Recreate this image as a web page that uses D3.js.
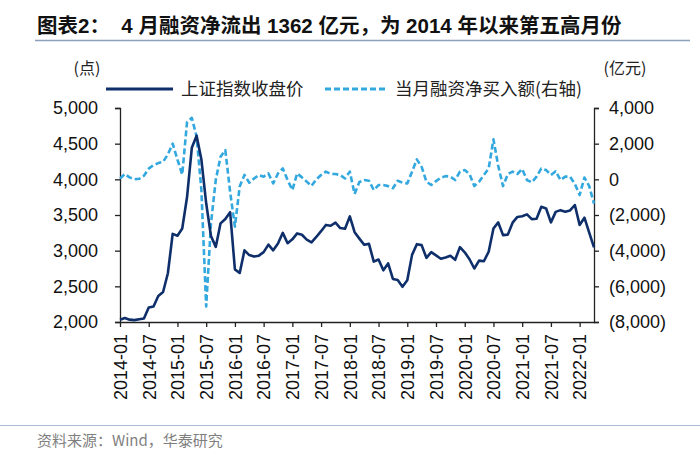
<!DOCTYPE html>
<html><head><meta charset="utf-8">
<script src="https://cdn.jsdelivr.net/npm/d3@7"></script>
<style>
body{margin:0;background:#fff;}
svg{display:block;}
</style></head>
<body>
<svg id="c" width="700" height="467"></svg>
<script>
// ---- data ----
const years = [2014,2015,2016,2017,2018,2019,2020,2021,2022];
const months = [];
years.forEach(y => { for (let m = 1; m <= 12; m++) { if (y === 2022 && m > 4) break; months.push(y + "-" + String(m).padStart(2, "0")); } });

const shIndex = [
  2033,2056,2033,2026,2039,2048,2202,2217,2364,2420,2683,3235,
  3210,3310,3748,4442,4612,4277,3664,3206,3053,3383,3445,3539,
  2738,2688,3004,2938,2917,2930,2979,3085,3005,3100,3250,3104,
  3159,3242,3223,3155,3117,3192,3273,3361,3349,3393,3317,3307,
  3481,3259,3169,3082,3095,2847,2876,2725,2821,2603,2588,2494,
  2585,2941,3091,3078,2899,2979,2933,2886,2905,2929,2872,3050,
  2977,2880,2750,2860,2852,2985,3310,3396,3218,3225,3392,3473,
  3483,3509,3442,3447,3615,3591,3397,3544,3568,3547,3564,3640,
  3361,3462,3252,3047
];
const marginNet = [
  40,300,110,0,30,200,600,800,910,980,1400,2000,
  1100,270,3200,3450,2400,-600,-7130,-2470,-40,1270,1640,-700,
  -2650,-400,250,-190,50,240,150,330,-230,330,610,-40,
  -600,330,110,-130,-370,0,240,430,300,300,240,50,
  430,-820,-150,-40,-80,-600,-320,-320,-380,-500,-80,-190,
  -230,430,1120,700,-130,-320,-100,90,180,150,-40,430,
  520,300,-380,-130,240,610,2240,750,-380,300,430,300,
  580,-40,-170,150,610,520,240,450,-40,150,150,-260,
  -880,100,-380,-1362
];
const leftTicks = [2000,2500,3000,3500,4000,4500,5000];
const rightTicks = [-8000,-6000,-4000,-2000,0,2000,4000];
const xTickLabels = months.filter((d,i) => i % 6 === 0);

const title = "图表2：  4 月融资净流出 1362 亿元，为 2014 年以来第五高月份";
const leftUnit = "(点)", rightUnit = "(亿元)";
const legendNames = ["上证指数收盘价", "当月融资净买入额(右轴)"];
const source = "资料来源：Wind，华泰研究";

// ---- drawing ----
const svg = d3.select("#c");
const numFont = "'Liberation Sans', Arial, sans-serif";
const cjkFont = "'Noto Sans CJK SC', 'Liberation Sans', sans-serif";
const navy = "#0f2f6b", light = "#33a8df";

const L = 120, R = 594, T = 108, B = 322;
const x = d3.scalePoint().domain(months).range([L, R]);
const yL = d3.scaleLinear().domain([2000, 5000]).range([B, T]);
const yR = d3.scaleLinear().domain([-8000, 4000]).range([B, T]);

// title
svg.append("text").attr("x", 37).attr("y", 33)
  .attr("font-family", "'Liberation Sans', 'Noto Sans CJK SC', sans-serif")
  .attr("font-weight", "bold").attr("font-size", 20.5).attr("fill", "#111")
  .attr("xml:space", "preserve").text(title);
svg.append("line").attr("x1", 35).attr("x2", 690).attr("y1", 40.5).attr("y2", 40.5)
  .attr("stroke", "#8aa0bd").attr("stroke-width", 1.5);

// footer
svg.append("line").attr("x1", 0).attr("x2", 700).attr("y1", 425.5).attr("y2", 425.5)
  .attr("stroke", "#a9bdd6").attr("stroke-width", 1.2);
svg.append("text").attr("x", 37).attr("y", 446)
  .attr("font-family", cjkFont).attr("font-size", 15).attr("fill", "#7f7f7f").text(source);

// units
svg.append("text").attr("x", 87).attr("y", 74).attr("text-anchor", "middle")
  .attr("font-family", cjkFont).attr("font-size", 16).attr("fill", "#222").text(leftUnit);
svg.append("text").attr("x", 625).attr("y", 74).attr("text-anchor", "middle")
  .attr("font-family", cjkFont).attr("font-size", 16).attr("fill", "#222").text(rightUnit);

// legend
svg.append("line").attr("x1", 106).attr("x2", 173).attr("y1", 89).attr("y2", 89)
  .attr("stroke", navy).attr("stroke-width", 3);
svg.append("text").attr("x", 181).attr("y", 95).attr("font-family", cjkFont)
  .attr("font-size", 17.5).attr("fill", "#222").text(legendNames[0]);
svg.append("line").attr("x1", 325).attr("x2", 387).attr("y1", 89).attr("y2", 89)
  .attr("stroke", light).attr("stroke-width", 3).attr("stroke-dasharray", "6,3");
svg.append("text").attr("x", 395).attr("y", 95).attr("font-family", cjkFont)
  .attr("font-size", 17.5).attr("fill", "#222").text(legendNames[1]);

// axes
const fmtL = d3.format(",");
const fmtR = v => v < 0 ? "(" + d3.format(",")(-v) + ")" : d3.format(",")(v);

const gL = svg.append("g").attr("transform", `translate(${L},0)`)
  .call(d3.axisLeft(yL).tickValues(leftTicks).tickFormat(fmtL).tickSize(5).tickSizeOuter(5).tickPadding(17));
const gR = svg.append("g").attr("transform", `translate(${R},0)`)
  .call(d3.axisRight(yR).tickValues(rightTicks).tickFormat(fmtR).tickSize(5).tickSizeOuter(5).tickPadding(10));
const gB = svg.append("g").attr("transform", `translate(0,${B})`)
  .call(d3.axisBottom(x).tickValues(xTickLabels).tickSize(5).tickSizeOuter(0).tickPadding(8));

[gL, gR, gB].forEach(g => {
  g.select(".domain").attr("stroke", "#222").attr("stroke-width", 1.3);
  g.selectAll(".tick line").attr("stroke", "#222").attr("stroke-width", 1.3);
  g.selectAll("text").attr("font-family", numFont).attr("font-size", 18).attr("fill", "#111");
});
gB.selectAll(".tick text")
  .attr("transform", "rotate(-90)")
  .attr("text-anchor", "end")
  .attr("x", -12).attr("y", 0).attr("dy", "0.35em");

// lines
const lineL = d3.line().x((d, i) => x(months[i])).y(d => yL(d)).curve(d3.curveLinear);
const lineR = d3.line().x((d, i) => x(months[i])).y(d => yR(d)).curve(d3.curveLinear);

svg.append("path").datum(marginNet).attr("d", lineR)
  .attr("fill", "none").attr("stroke", light).attr("stroke-width", 2.6)
  .attr("stroke-dasharray", "6,3").attr("stroke-linejoin", "round");
svg.append("path").datum(shIndex).attr("d", lineL)
  .attr("fill", "none").attr("stroke", navy).attr("stroke-width", 2.6)
  .attr("stroke-linejoin", "round");
</script>
</body></html>
